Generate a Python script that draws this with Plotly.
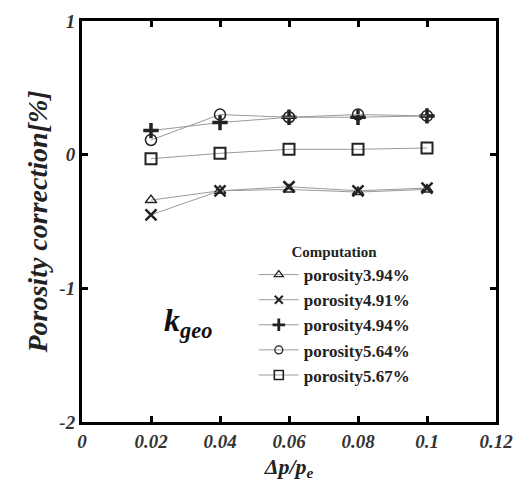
import plotly.graph_objects as go

x_vals = [0.02, 0.04, 0.06, 0.08, 0.1]
names = ["porosity3.94%", "porosity4.91%", "porosity4.94%", "porosity5.64%", "porosity5.67%"]
y_394 = [-0.34, -0.27, -0.26, -0.28, -0.26]
y_491 = [-0.45, -0.27, -0.24, -0.27, -0.25]
y_494 = [0.18, 0.24, 0.28, 0.28, 0.29]
y_564 = [0.11, 0.30, 0.28, 0.30, 0.29]
y_567 = [-0.03, 0.01, 0.04, 0.04, 0.05]
x_ticks = [0, 0.02, 0.04, 0.06, 0.08, 0.1, 0.12]
x_ticklabels = ["0", "0.02", "0.04", "0.06", "0.08", "0.1", "0.12"]
y_ticks = [-2, -1, 0, 1]
y_ticklabels = ["-2", "-1", "0", "1"]

series = [y_394, y_491, y_494, y_564, y_567]
symbols = ["triangle-up-open", "x-thin-open", "cross-thin-open", "circle-open", "square-open"]
sizes = [10, 11, 11, 11, 11]
mlw = [1.5, 2.5, 3.5, 1.5, 2]
leg_sizes = [8, 8, 9, 8, 9]

FONT = "Liberation Serif"
fig = go.Figure()
for n, ys, s, sz, lw, ls in zip(names, series, symbols, sizes, mlw, leg_sizes):
    fig.add_trace(go.Scatter(
        x=x_vals, y=ys, name=n, mode="lines+markers", showlegend=False, legendgroup=n,
        line=dict(color="#9a9a9a", width=1),
        marker=dict(symbol=s, size=sz, color="#222", line=dict(color="#222", width=lw)),
    ))
    fig.add_trace(go.Scatter(
        x=[None], y=[None], name=n, mode="lines+markers", legendgroup=n,
        line=dict(color="#9a9a9a", width=1),
        marker=dict(symbol=s, size=ls, color="#222", line=dict(color="#222", width=lw * 0.8)),
    ))

axis_common = dict(
    showline=True, linecolor="black", linewidth=3, mirror="ticks",
    ticks="inside", ticklen=6, tickwidth=3, tickcolor="black",
    showgrid=False, zeroline=False,
    tickfont=dict(family=FONT, size=19, color="#333", style="italic", weight="bold"),
)
fig.update_xaxes(range=[0, 0.12], tickvals=x_ticks, ticktext=x_ticklabels,
                 title=dict(text="Δp/p<sub>e</sub>", standoff=8,
                            font=dict(family=FONT, size=22, color="#222", style="italic", weight="bold")),
                 **axis_common)
fig.update_yaxes(range=[-2, 1], tickvals=y_ticks, tickmode="array", ticktext=y_ticklabels,
                 title=dict(text="Porosity correction[%]", standoff=4,
                            font=dict(family=FONT, size=28, color="#222", style="italic", weight="bold")),
                 **axis_common)

fig.add_annotation(x=0.255, y=0.248, xref="paper", yref="paper", xanchor="center", yanchor="middle",
                   text="<b><i>k<sub>geo</sub></i></b>", showarrow=False,
                   font=dict(family=FONT, size=32, color="#111"))

fig.update_layout(
    width=524, height=489,
    margin=dict(l=82, r=28, t=11, b=67),
    plot_bgcolor="white", paper_bgcolor="white",
    legend=dict(x=0.415, y=0.46, xanchor="left", yanchor="top",
                bgcolor="rgba(0,0,0,0)", tracegroupgap=0, itemwidth=40,
                title=dict(text="<b>Computation</b>", side="top center",
                           font=dict(family=FONT, size=15, color="#222")),
                font=dict(family=FONT, size=17, color="#222", weight="bold")),
    showlegend=True,
)
fig.write_html("out.html")
